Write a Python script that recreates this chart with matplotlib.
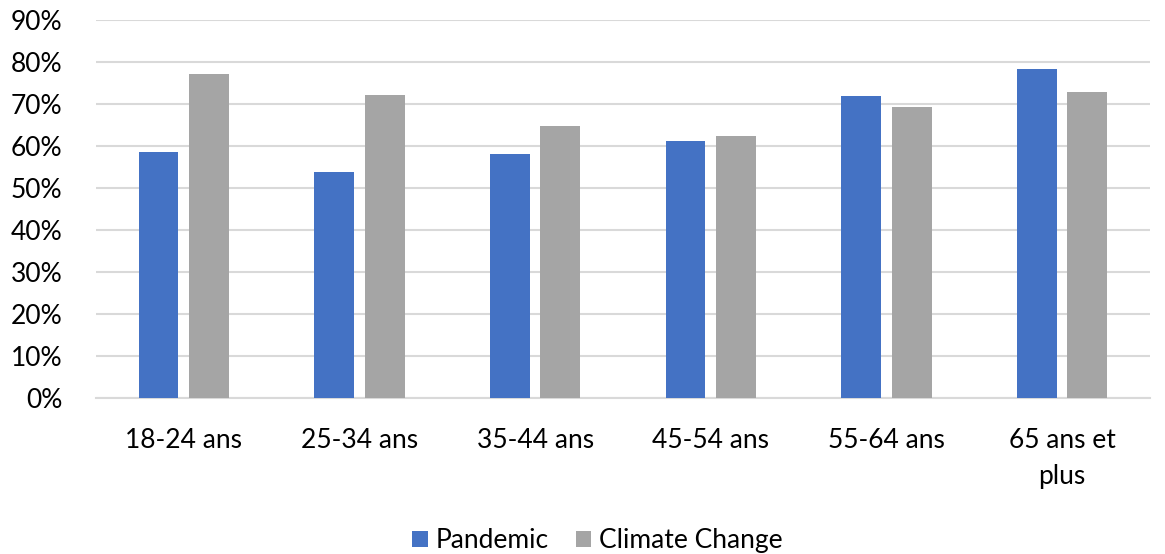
import numpy as np
import matplotlib
matplotlib.use("Agg")
import matplotlib.pyplot as plt
from matplotlib.ticker import PercentFormatter

plt.rcParams['font.family'] = ['Lato', 'DejaVu Sans']

categories = ["18-24 ans", "25-34 ans", "35-44 ans", "45-54 ans", "55-64 ans", "65 ans et\nplus"]
pandemic = [58.7, 53.9, 58.2, 61.3, 72.0, 78.4]
climate_change = [77.2, 72.2, 64.8, 62.5, 69.4, 72.9]

x = np.arange(len(categories))
width = 0.227
offset = 0.144

fig = plt.figure(figsize=(11.65, 5.54), dpi=100)
ax = fig.add_axes([0.0824, 0.282, 0.9046, 0.681])

ax.bar(x - offset, pandemic, width, color="#4472C4", label="Pandemic", zorder=3)
ax.bar(x + offset, climate_change, width, color="#A5A5A5", label="Climate Change", zorder=3)

ax.set_xlim(-0.5, len(categories) - 0.5)
ax.set_ylim(0, 90)
ax.set_yticks(range(0, 91, 10))
ax.yaxis.set_major_formatter(PercentFormatter(decimals=0))
ax.grid(axis="y", color="#d9d9d9", linewidth=1.5, zorder=0)
for s in ["top", "right", "left"]:
    ax.spines[s].set_visible(False)
ax.spines["bottom"].set_color("#d9d9d9")
ax.spines["bottom"].set_linewidth(1.5)

ax.set_xticks(x)
ax.set_xticklabels(categories, fontsize=19, linespacing=1.55, va="top")
ax.tick_params(axis="x", length=0, pad=22)
ax.tick_params(axis="y", length=0, pad=24, labelsize=19)

ax.legend(loc="lower center", bbox_to_anchor=(0.476, -0.475), ncol=2, frameon=False,
          fontsize=19, handlelength=0.6, handleheight=0.6, handletextpad=0.3,
          columnspacing=1.0)

fig.savefig("out.png", dpi=100)
